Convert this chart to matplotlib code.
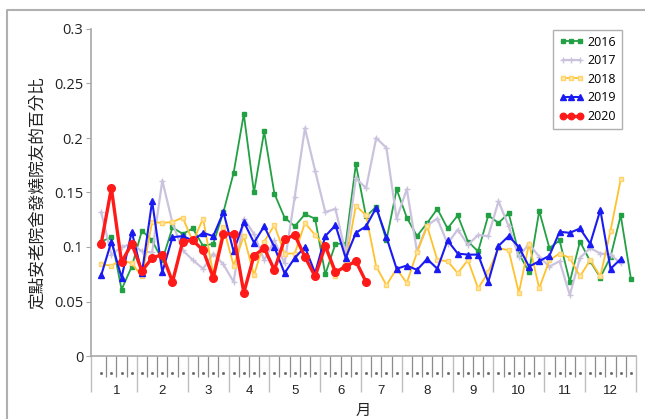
import matplotlib
matplotlib.use("Agg")
import matplotlib.pyplot as plt
import numpy as np
from matplotlib.lines import Line2D

plt.rcParams["font.family"] = ["Open Sans", "Noto Sans CJK TC", "DejaVu Sans"]

# weekly share of fever cases, week 1..53
weeks = np.arange(1, 54)
month_weeks = [4, 5, 4, 4, 5, 4, 4, 5, 4, 5, 4, 5]
month_labels = [str(m) for m in range(1, 13)]

y2016 = [0.105, 0.109, 0.061, 0.082, 0.115, 0.106, 0.088, 0.118, 0.112, 0.117,
         0.101, 0.103, 0.132, 0.168, 0.222, 0.150, 0.206, 0.149, 0.127, 0.119,
         0.130, 0.126, 0.075, 0.103, 0.103, 0.176, 0.128, 0.137, 0.106, 0.153,
         0.127, 0.110, 0.122, 0.135, 0.117, 0.129, 0.105, 0.096, 0.129, 0.122,
         0.131, 0.094, 0.077, 0.133, 0.099, 0.106, 0.068, 0.105, 0.087, 0.072,
         0.091, 0.129, 0.071]
y2017 = [0.132, 0.093, 0.100, 0.103, 0.096, 0.095, 0.161, 0.122, 0.097, 0.088,
         0.080, 0.094, 0.084, 0.068, 0.126, 0.112, 0.088, 0.106, 0.085, 0.146,
         0.209, 0.170, 0.132, 0.135, 0.094, 0.163, 0.154, 0.200, 0.191, 0.126,
         0.153, 0.096, 0.120, 0.126, 0.103, 0.116, 0.102, 0.111, 0.110, 0.142,
         0.119, 0.091, 0.103, 0.091, 0.082, 0.087, 0.056, 0.090, 0.099, 0.094,
         0.093, 0.085]
y2018 = [0.084, 0.083, 0.088, 0.085, 0.073, 0.123, 0.122, 0.123, 0.127, 0.105,
         0.126, 0.075, 0.118, 0.083, 0.110, 0.074, 0.105, 0.120, 0.094, 0.094,
         0.122, 0.111, 0.100, 0.073, 0.086, 0.138, 0.129, 0.082, 0.065, 0.080,
         0.067, 0.095, 0.119, 0.088, 0.087, 0.076, 0.088, 0.062, 0.077, 0.099,
         0.097, 0.058, 0.103, 0.062, 0.088, 0.094, 0.090, 0.073, 0.088, 0.073,
         0.115, 0.162]
y2019 = [0.074, 0.105, 0.072, 0.114, 0.076, 0.142, 0.077, 0.109, 0.110, 0.106,
         0.113, 0.110, 0.132, 0.096, 0.123, 0.104, 0.119, 0.100, 0.076, 0.090,
         0.100, 0.076, 0.110, 0.120, 0.090, 0.113, 0.119, 0.136, 0.109, 0.080,
         0.083, 0.079, 0.089, 0.080, 0.106, 0.094, 0.093, 0.093, 0.068, 0.101,
         0.110, 0.100, 0.082, 0.087, 0.092, 0.114, 0.113, 0.117, 0.103, 0.134,
         0.080, 0.089]
y2020 = [0.103, 0.154, 0.086, 0.103, 0.078, 0.090, 0.093, 0.068, 0.105, 0.106,
         0.097, 0.072, 0.112, 0.112, 0.058, 0.092, 0.099, 0.079, 0.107, 0.111,
         0.091, 0.073, 0.101, 0.077, 0.082, 0.087, 0.068]

fig = plt.figure(figsize=(6.45, 4.19), dpi=100)
ax = fig.add_axes([91 / 645, 63 / 419, 545 / 645, 327 / 419])

ax.plot(weeks[:len(y2016)], y2016, color="#23a044", lw=1.3, marker="s", ms=3.5, label="2016")
ax.plot(weeks[:len(y2017)], y2017, color="#cbc3de", lw=1.6, marker="+", ms=5, mew=1, label="2017")
ax.plot(weeks[:len(y2018)], y2018, color="#ffc22e", lw=1.3, marker="s", ms=3.5,
        mfc="#ffe7a6", mec="#ffd36a", label="2018")
ax.plot(weeks[:len(y2019)], y2019, color="#1a1af2", lw=1.5, marker="^", ms=4.5, label="2019")
ax.plot(weeks[:len(y2020)], y2020, color="#ff1a1a", lw=2.4, marker="o", ms=5.5, label="2020")

ax.set_xlim(0, 53.5)
ax.set_ylim(0, 0.3)

for side in ("top", "right"):
    ax.spines[side].set_visible(False)
for side in ("left", "bottom"):
    ax.spines[side].set_color("#a8a8a8")
    ax.spines[side].set_linewidth(1.2)

ax.set_yticks([0, 0.05, 0.1, 0.15, 0.2, 0.25, 0.3])
ax.set_yticklabels(["0", "0.05", "0.1", "0.15", "0.2", "0.25", "0.3"])
ax.tick_params(axis="y", length=3.5, color="#a8a8a8", pad=2, labelsize=10.5,
               labelcolor="#222222")

edges = np.concatenate([[0.5], 0.5 + np.cumsum(month_weeks)])
major = np.concatenate([[0.0], edges[1:]])
minor = [e for e in np.arange(1.5, 53.0, 1.0) if e not in edges]
ax.set_xticks(major)
ax.set_xticklabels([""] * len(major))
ax.set_xticks(minor, minor=True)
ax.tick_params(axis="x", which="major", length=26, color="#bdbdbd", width=1)
ax.tick_params(axis="x", which="minor", length=15, color="#8c8c8c", width=0.9)

trans = ax.get_xaxis_transform()
ax.plot(weeks, [-0.052] * len(weeks), transform=trans, ls="none", marker="s",
        ms=1.0, color="#6a6a6a", clip_on=False)
centers = (edges[:-1] + edges[1:]) / 2
for c, lab in zip(centers, month_labels):
    ax.text(c, -0.107, lab, transform=trans, ha="center", va="center",
            fontsize=9.5, family="Liberation Sans", color="#222222")

ax.text(0.5, -0.165, "月", transform=ax.transAxes, ha="center", va="center",
        fontsize=11, family=["Noto Sans CJK TC", "DejaVu Sans"], color="#222222")
ax.set_ylabel("定點安老院舍發燒院友的百分比", fontsize=12,
              family=["Noto Sans CJK TC", "DejaVu Sans"], color="#222222", labelpad=6)

leg = ax.legend(loc="upper right", bbox_to_anchor=(0.974, 0.997), numpoints=3,
                fancybox=False, edgecolor="#b0b0b0", framealpha=1,
                prop={"family": "Open Sans", "size": 9}, handlelength=2.0,
                handletextpad=0.3, labelspacing=0.45, borderpad=0.45,
                borderaxespad=0, markerscale=0.85)
leg.get_frame().set_linewidth(1)

fig.add_artist(Line2D([7 / 645, 7 / 645, 1.0], [0, 1 - 10 / 419, 1 - 10 / 419],
                      transform=fig.transFigure, color="#b0b0b0", lw=1.5))

fig.savefig("out.png", dpi=100)
